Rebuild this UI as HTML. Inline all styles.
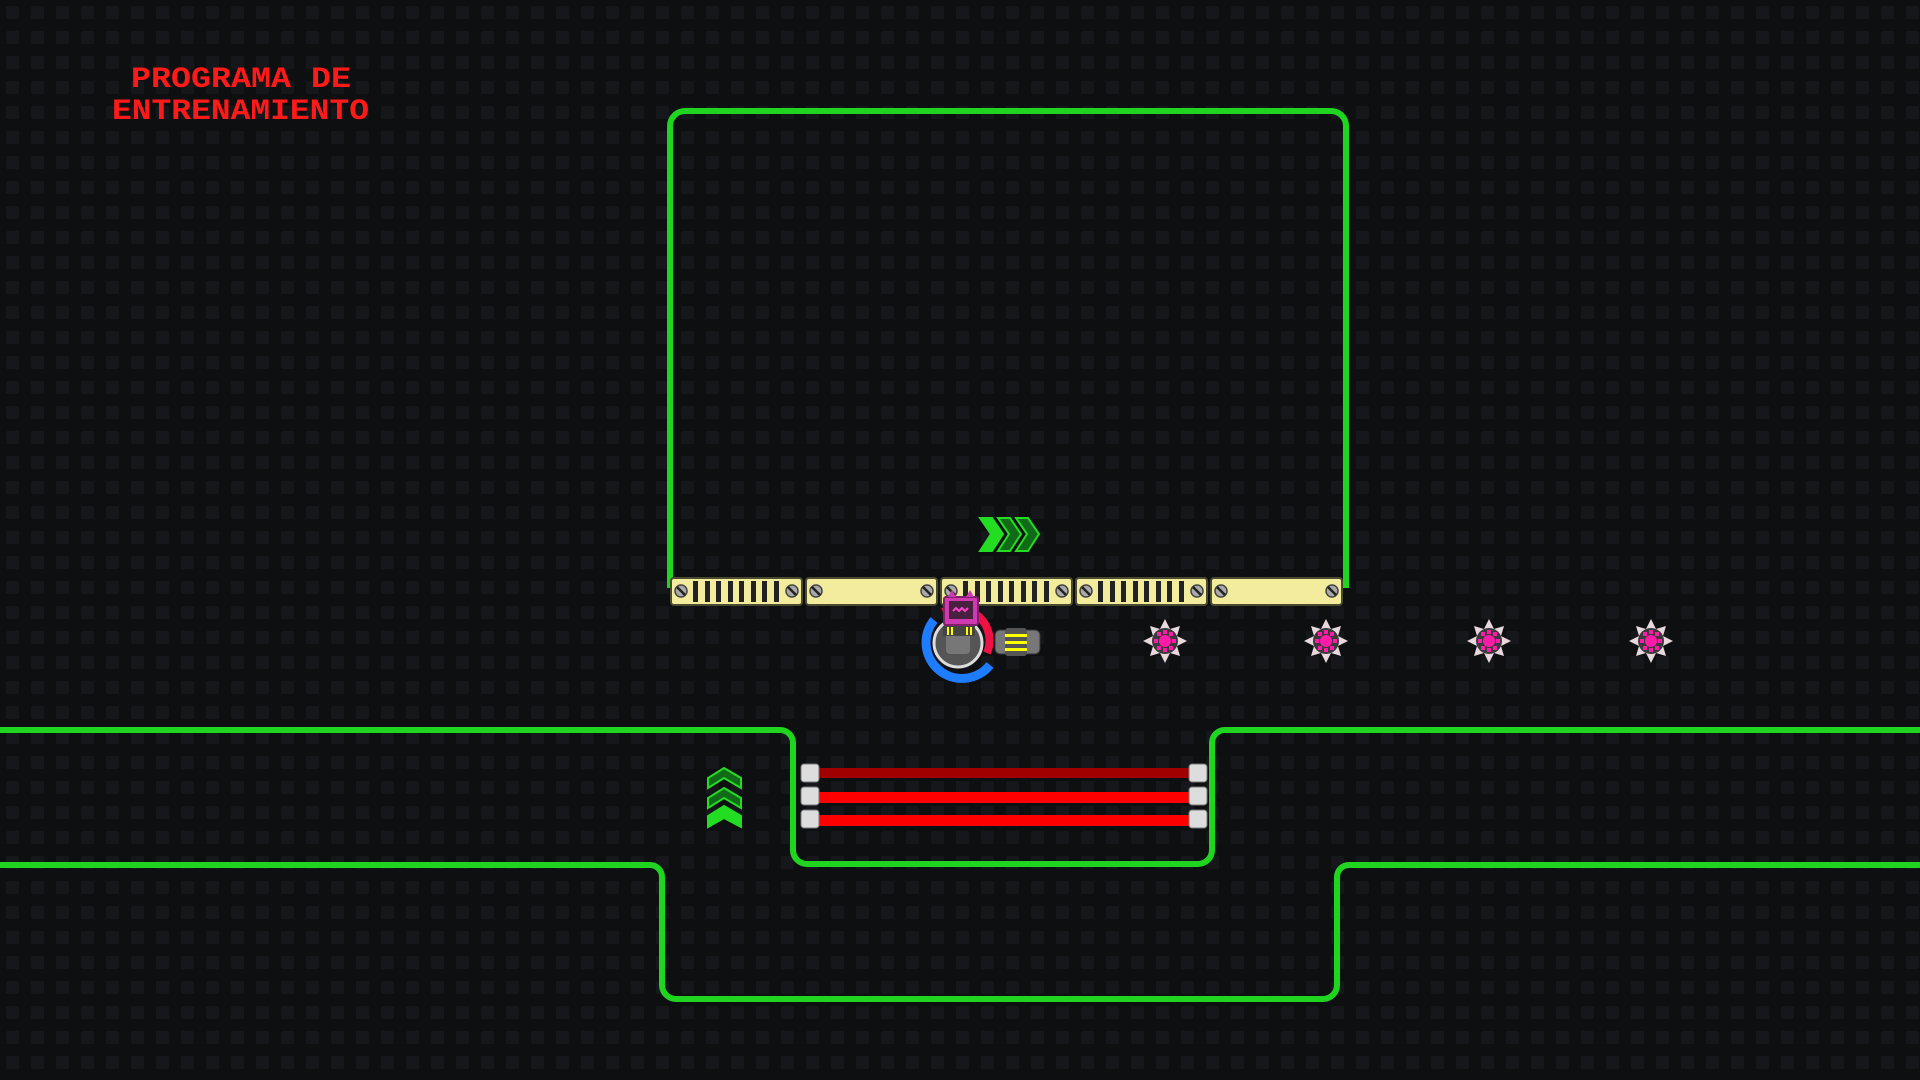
<!DOCTYPE html>
<html><head><meta charset="utf-8"><style>
html,body{margin:0;padding:0;background:#0e0f11;width:1920px;height:1080px;overflow:hidden}
svg{display:block}
</style></head><body>
<svg width="1920" height="1080" xmlns="http://www.w3.org/2000/svg">
<defs>
<pattern id="g" width="25" height="25" patternUnits="userSpaceOnUse">
<rect width="25" height="25" fill="#0e0f11"/><rect x="6" y="6" width="13" height="13" rx="2" fill="#16171a"/>
</pattern>
<g id="screw"><circle r="6" fill="#aaa" stroke="#444" stroke-width="1.5"/><line x1="-4" y1="-4" x2="4" y2="4" stroke="#222" stroke-width="2.5"/></g>
<g id="spike">
<polygon points="0,-22 5,-12 15,-15 12,-5 22,0 12,5 15,15 5,12 0,22 -5,12 -15,15 -12,5 -22,0 -12,-5 -15,-15 -5,-12" fill="#e8d8dc"/>
<circle r="13" fill="#3a3a3c"/><circle r="6" fill="#ff1aa8"/>
<g fill="#ff1aa8"><rect x="-2" y="-11" width="4" height="4"/><rect x="-2" y="7" width="4" height="4"/><rect x="-11" y="-2" width="4" height="4"/><rect x="7" y="-2" width="4" height="4"/><rect x="4" y="-9" width="4" height="4"/><rect x="-8" y="-9" width="4" height="4"/><rect x="4" y="5" width="4" height="4"/><rect x="-8" y="5" width="4" height="4"/></g>
</g>
</defs>
<rect width="1920" height="1080" fill="url(#g)"/>
<text x="131" y="87" font-family="Liberation Mono, monospace" font-weight="bold" font-size="30" fill="#ff1a1a" textLength="220" lengthAdjust="spacingAndGlyphs">PROGRAMA DE</text>
<text x="112" y="119" font-family="Liberation Mono, monospace" font-weight="bold" font-size="30" fill="#ff1a1a" textLength="257" lengthAdjust="spacingAndGlyphs">ENTRENAMIENTO</text>
<g fill="none" stroke="#1fd51f" stroke-width="6" stroke-linejoin="round">
<path d="M670,588 V126 a15,15 0 0 1 15,-15 H1331 a15,15 0 0 1 15,15 V588"/>
<path d="M0,730 H780 a13,13 0 0 1 13,13 V850 a14,14 0 0 0 14,14 H1198 a14,14 0 0 0 14,-14 V743 a13,13 0 0 1 13,-13 H1920"/>
<path d="M0,865 H650 a12,12 0 0 1 12,12 V985 a14,14 0 0 0 14,14 H1323 a14,14 0 0 0 14,-14 V877 a12,12 0 0 1 12,-12 H1920"/>
</g>
<g stroke="#4a4a30" stroke-width="2" fill="#f2ec9c">
<rect x="671" y="578" width="131" height="27" rx="3"/><rect x="806" y="578" width="131" height="27" rx="3"/><rect x="941" y="578" width="131" height="27" rx="3"/><rect x="1076" y="578" width="131" height="27" rx="3"/><rect x="1211" y="578" width="131" height="27" rx="3"/>
</g>
<g fill="#222">
<g id="bars"><rect x="693" y="581" width="5" height="21"/><rect x="705" y="581" width="5" height="21"/><rect x="716" y="581" width="5" height="21"/><rect x="728" y="581" width="5" height="21"/><rect x="739" y="581" width="5" height="21"/><rect x="751" y="581" width="5" height="21"/><rect x="762" y="581" width="5" height="21"/><rect x="774" y="581" width="5" height="21"/></g>
<use href="#bars" x="270"/><use href="#bars" x="405"/>
</g>
<use href="#screw" x="681" y="591"/><use href="#screw" x="792" y="591"/>
<use href="#screw" x="816" y="591"/><use href="#screw" x="927" y="591"/>
<use href="#screw" x="951" y="591"/><use href="#screw" x="1062" y="591"/>
<use href="#screw" x="1086" y="591"/><use href="#screw" x="1197" y="591"/>
<use href="#screw" x="1221" y="591"/><use href="#screw" x="1332" y="591"/>
<g stroke-width="2">
<polygon points="980,518 992,518 1003,534 992,551 980,551 991,534" fill="#22dd22" stroke="#22dd22"/>
<polygon points="998,518 1010,518 1021,534 1010,551 998,551 1009,534" fill="#106a18" stroke="#22dd22"/>
<polygon points="1016,518 1028,518 1039,534 1028,551 1016,551 1027,534" fill="#106a18" stroke="#22dd22"/>
<polygon points="724,768 741,778 741,788 724,778 708,788 708,778" fill="#106a18" stroke="#22dd22"/>
<polygon points="724,788 741,798 741,808 724,798 708,808 708,798" fill="#106a18" stroke="#22dd22"/>
<polygon points="724,806 741,816 741,827 724,818 708,827 708,816" fill="#22dd22" stroke="#22dd22"/>
</g>
<rect x="818" y="768" width="372" height="10" fill="#a00000"/>
<rect x="818" y="792" width="372" height="11" fill="#ff0000"/>
<rect x="818" y="815" width="372" height="11" fill="#ff0000"/>
<g fill="#ddd" stroke="#777" stroke-width="1">
<rect x="801" y="764" width="18" height="18" rx="3"/><rect x="801" y="787" width="18" height="18" rx="3"/><rect x="801" y="810" width="18" height="18" rx="3"/>
<rect x="1189" y="764" width="18" height="18" rx="3"/><rect x="1189" y="787" width="18" height="18" rx="3"/><rect x="1189" y="810" width="18" height="18" rx="3"/>
</g>
<use href="#spike" x="1165" y="641"/><use href="#spike" x="1326" y="641"/><use href="#spike" x="1489" y="641"/><use href="#spike" x="1651" y="641"/>
<rect x="995" y="630" width="45" height="24" rx="5" fill="#777" stroke="#333"/>
<rect x="1005" y="628" width="22" height="28" rx="3" fill="#555"/>
<rect x="1005" y="634" width="22" height="3" fill="#ff0"/><rect x="1005" y="641" width="22" height="3" fill="#ff0"/><rect x="1005" y="648" width="22" height="3" fill="#ff0"/>
<path d="M943,612 A32,32 0 0 1 987,653" fill="none" stroke="#ee1144" stroke-width="8"/>
<path d="M990,665 A32,32 0 1 1 934,620" fill="none" stroke="#1e7cff" stroke-width="9"/>
<circle cx="958" cy="643" r="24" fill="#555" stroke="#ddd" stroke-width="3"/>
<rect x="946" y="632" width="24" height="22" rx="4" fill="#777"/>
<rect x="943" y="626" width="32" height="10" fill="#444"/>
<rect x="947" y="627" width="2" height="8" fill="#ff0"/><rect x="951" y="627" width="2" height="8" fill="#ff0"/><rect x="966" y="627" width="2" height="8" fill="#ff0"/><rect x="970" y="627" width="2" height="8" fill="#ff0"/>
<rect x="944" y="597" width="34" height="28" rx="2" fill="#d03ab0" stroke="#80206a" stroke-width="2"/>
<rect x="949" y="601" width="24" height="18" fill="#4a2040"/>
<polyline points="953,611 956,608 959,611 962,608 965,611 968,608" fill="none" stroke="#ff44cc" stroke-width="2"/>
<polygon points="948,597 952,590 956,597" fill="#d03ab0"/><polygon points="966,597 970,590 974,597" fill="#d03ab0"/>
</svg>
</body></html>
